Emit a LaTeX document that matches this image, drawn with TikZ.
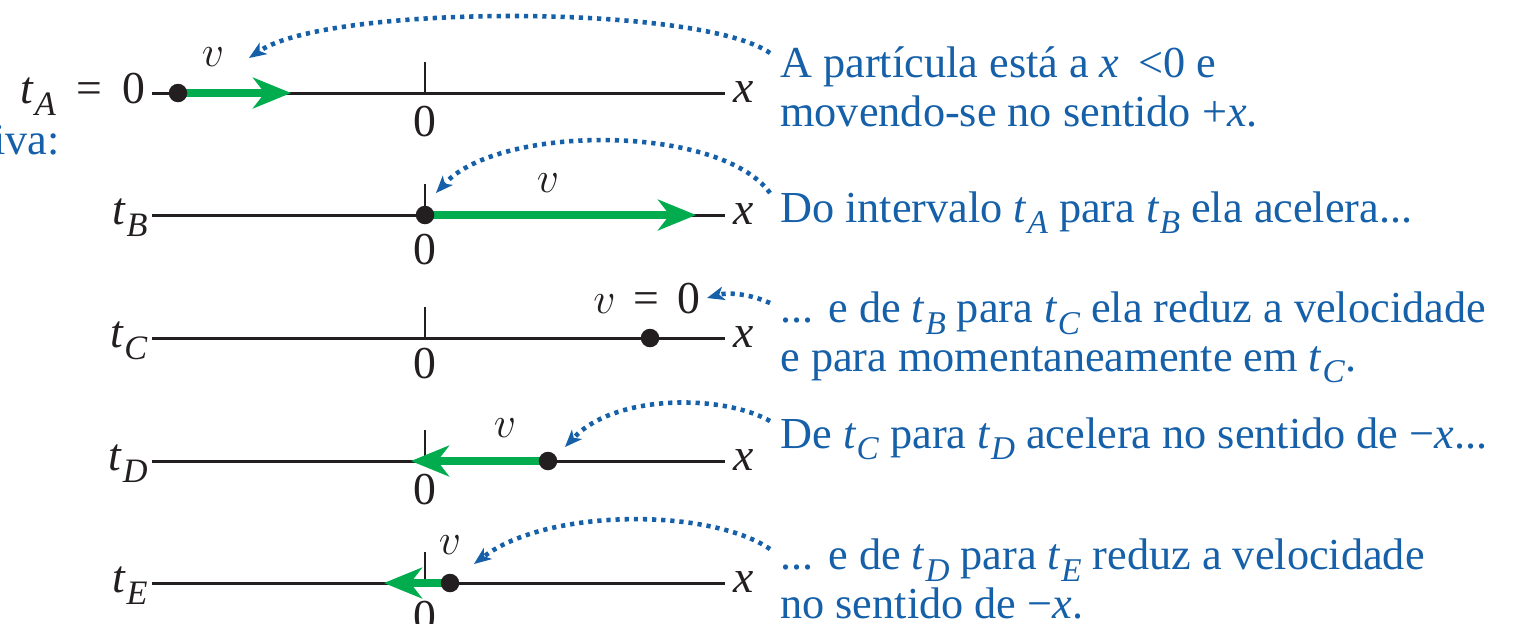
\documentclass[tikz,border=0pt]{standalone}
\usepackage{amsmath,graphicx}
\usepackage{fontspec}
\setmainfont{Liberation Serif}
\usetikzlibrary{arrows.meta,positioning}
\definecolor{axisink}{HTML}{231F20}
\definecolor{blueink}{HTML}{1560A8}
\definecolor{greenvel}{HTML}{00AC4E}
\newcommand{\vx}{\textit{x}}
\newcommand{\vv}{{\fontsize{30}{30}\selectfont$v$}}
\newcommand{\tsub}[1]{\textit{t}\kern0.01em\raisebox{-0.27em}{\scalebox{0.75}{\textit{#1}}}}

\begin{document}
\begin{tikzpicture}[x=0.02cm,y=-0.02cm,font=\fontsize{26}{27.5}\selectfont,
  axisline/.style={draw=axisink,line width=1.7pt},
  tickmark/.style={draw=axisink,line width=1.5pt},
  dotmark/.style={circle,fill=axisink,inner sep=0pt,minimum size=0.37cm},
  vel/.style={draw=greenvel,line width=4.6pt,
              -{Stealth[length=22pt,width=18pt,inset=7pt,line width=0pt]}},
  callout/.style={draw=blueink,line width=2.6pt,dash pattern=on 2.4pt off 2.8pt,
              -{Stealth[length=10pt,width=8pt,inset=2.8pt,line width=0pt]}},
  lbl/.style={text=axisink,inner sep=0pt},
  note/.style={text=blueink,align=left,anchor=base west,inner sep=0pt,
               font=\fontsize{25.2}{27.5}\selectfont}]
\useasboundingbox (0,0) rectangle (1517,623);

% axes, ticks and labels
\node[lbl,anchor=base east] (tA) at (146,103) {\tsub{A}\hspace{0.45em}=\hspace{0.45em}0};
\foreach \r/\y in {B/215,C/338,D/461,E/583}
  \node[lbl,anchor=base east] (t\r) at (148,\y+9) {\tsub{\r}};
\foreach \r/\y/\z in {A/93/122,B/215/250,C/338/364,D/461/490,E/583/617}{
  \coordinate (l\r) at (152,\y);
  \coordinate (r\r) at (725,\y);
  \coordinate (o\r) at (425,\y);
  \draw[axisline] (l\r) -- (r\r);
  \draw[tickmark] (o\r) -- ++(0,-31);
  \node[lbl] (z\r) at (425,\z) {0};
  \node[lbl,anchor=base west] (x\r) at (733,\y+9) {\vx};
}
\node[text=blueink,inner sep=0pt,anchor=base east,
      font=\fontsize{25.2}{27.5}\selectfont] (cut) at (60,154) {iva:};

% velocity vectors
\coordinate (hA) at (291,93);
\coordinate (hB) at (696,215);
\coordinate (hD) at (411,461);
\coordinate (hE) at (384,583);
\coordinate (pA) at (178,93);
\coordinate (pB) at (425,215);
\coordinate (pD) at (548,461);
\coordinate (pE) at (450,583);
\foreach \r in {A,B,D,E} \draw[vel] (p\r) -- (h\r);
\foreach \r in {A,B,D,E} \node[dotmark] (d\r) at (p\r) {};
\node[dotmark] (dC) at (650,338) {};

\node[lbl] (vA) at (213,57) {\vv};
\node[lbl] (vB) at (548,183) {\vv};
\node[lbl,anchor=base] (vC) at (647,313) {\vv\hspace{0.4em}=\hspace{0.4em}0};
\node[lbl] (vD) at (505,428) {\vv};
\node[lbl] (vE) at (450,545) {\vv};

% notes
\node[note] (nA) at (780,126) {A partícula está a \vx{} \,<0 e\\movendo-se no sentido +\vx.};
\node[note] (nB) at (780,222) {Do intervalo \tsub{A} para \tsub{B} ela acelera...};
\node[note] (nC) at (780,371) {... e de \tsub{B} para \tsub{C} ela reduz a velocidade\\e para momentaneamente em \tsub{C}.};
\node[note] (nD) at (780,448) {De \tsub{C} para \tsub{D} acelera no sentido de −\vx...};
\node[note] (nE) at (780,618) {... e de \tsub{D} para \tsub{E} reduz a velocidade\\no sentido de −\vx.};

% dotted pointers
\coordinate (sA) at (770,53);  \coordinate (eA) at (249,58);
\coordinate (sB) at (770,193); \coordinate (eB) at (436,193);
\coordinate (sC) at (770,303); \coordinate (eC) at (707,298);
\coordinate (sD) at (770,421); \coordinate (eD) at (565,447);
\coordinate (sE) at (770,549); \coordinate (eE) at (474,564);
\draw[callout] (sA) .. controls (700,4) and (330,4) .. (eA);
\draw[callout] (sB) .. controls (720,124) and (500,124) .. (eB);
\draw[callout] (sC) .. controls (745,292) and (725,293) .. (eC);
\draw[callout] (sD) .. controls (722,394) and (615,394) .. (eD);
\draw[callout] (sE) .. controls (710,508) and (548,508) .. (eE);
\end{tikzpicture}
\end{document}
